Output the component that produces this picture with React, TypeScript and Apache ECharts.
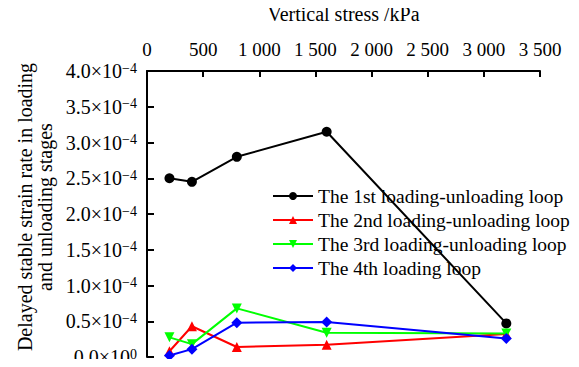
import React, { useEffect, useRef } from "react";
import * as echarts from "echarts";

// Vertical stress levels (kPa)
const stress = [200, 400, 800, 1600, 3200];

// Delayed stable strain rate per loop (×10⁻⁴)
const loop1 = [2.5, 2.45, 2.8, 3.15, 0.47];
const loop2 = [0.08, 0.43, 0.14, 0.17, 0.32];
const loop3 = [0.275, 0.18, 0.68, 0.34, 0.33];
const loop4 = [0.02, 0.11, 0.48, 0.49, 0.26];

const seriesNames = [
  "The 1st loading-unloading loop",
  "The 2nd loading-unloading loop",
  "The 3rd loading-unloading loop",
  "The 4th loading loop",
];

const xTickLabels = ["0", "500", "1 000", "1 500", "2 000", "2 500", "3 000", "3 500"];
const yTickMantissa = ["0.0", "0.5", "1.0", "1.5", "2.0", "2.5", "3.0", "3.5", "4.0"];

const FONT = "Liberation Serif";

export default function App() {
  const ref = useRef<HTMLDivElement>(null);

  useEffect(() => {
    if (!ref.current) return;
    const chart = echarts.init(ref.current, undefined, { renderer: "svg" });

    const toPairs = (vals: number[]) => vals.map((v, i) => [stress[i], v * 1e-4]);

    const mk = (name: string, data: number[], color: string, symbol: string, size: number, rotate = 0) => ({
      type: "line",
      name,
      data: toPairs(data),
      symbol,
      symbolSize: size,
      symbolRotate: rotate,
      showAllSymbol: true,
      lineStyle: { color, width: 2 },
      itemStyle: { color },
    });

    chart.setOption({
      animation: false,
      backgroundColor: "#fff",
      textStyle: { fontFamily: FONT, color: "#000" },
      grid: {
        left: 147,
        right: 39,
        top: 71,
        bottom: 10,
        containLabel: false,
        outerBoundsMode: "none",
      },
      legend: {
        orient: "vertical",
        left: 272,
        top: 186,
        padding: 0,
        itemWidth: 40,
        itemHeight: 10,
        itemGap: 4,
        textStyle: { fontFamily: FONT, fontSize: 19.5, color: "#000", lineHeight: 20 },
        data: seriesNames,
      },
      xAxis: {
        type: "value",
        position: "top",
        min: 0,
        max: 3500,
        interval: 500,
        name: "Vertical stress /kPa",
        nameLocation: "middle",
        nameGap: 47,
        nameTextStyle: { fontFamily: FONT, fontSize: 20, color: "#000" },
        axisLine: { show: true, onZero: false, lineStyle: { color: "#000", width: 2 } },
        axisTick: { show: true, inside: true, length: 6, lineStyle: { color: "#000", width: 2 } },
        axisLabel: {
          fontFamily: FONT,
          fontSize: 19,
          color: "#000",
          margin: 12,
          formatter: (_v: number, i: number) => xTickLabels[i] ?? "",
        },
        splitLine: { show: false },
      },
      yAxis: {
        type: "value",
        min: 0,
        max: 4e-4,
        interval: 0.5e-4,
        name: "Delayed stable strain rate in loading\nand unloading stages",
        nameLocation: "middle",
        nameRotate: 90,
        nameGap: 92,
        nameTextStyle: { fontFamily: FONT, fontSize: 20, color: "#000", lineHeight: 20, padding: [0, 0, 0, 14] },
        axisLine: { show: true, onZero: false, lineStyle: { color: "#000", width: 2 } },
        axisTick: { show: true, inside: true, length: 7, lineStyle: { color: "#000", width: 2 } },
        axisLabel: {
          fontFamily: FONT,
          fontSize: 20,
          color: "#000",
          margin: 10,
          formatter: (_v: number, i: number) =>
            `{m|${yTickMantissa[i]}×10}{s|${i === 0 ? "0" : "−4"}}`,
          rich: {
            m: { fontFamily: FONT, fontSize: 20, color: "#000", lineHeight: 20 },
            s: { fontFamily: FONT, fontSize: 14, color: "#000", verticalAlign: "top", lineHeight: 20 },
          },
        },
        splitLine: { show: false },
      },
      series: [
        mk(seriesNames[0], loop1, "#000000", "circle", 10),
        mk(seriesNames[1], loop2, "#ff0000", "triangle", 10),
        mk(seriesNames[2], loop3, "#00ff00", "triangle", 10, 180),
        mk(seriesNames[3], loop4, "#0000ff", "diamond", 11),
      ],
    });

    return () => chart.dispose();
  }, []);

  return <div ref={ref} style={{ width: 579, height: 367, margin: -8 }} />;
}
